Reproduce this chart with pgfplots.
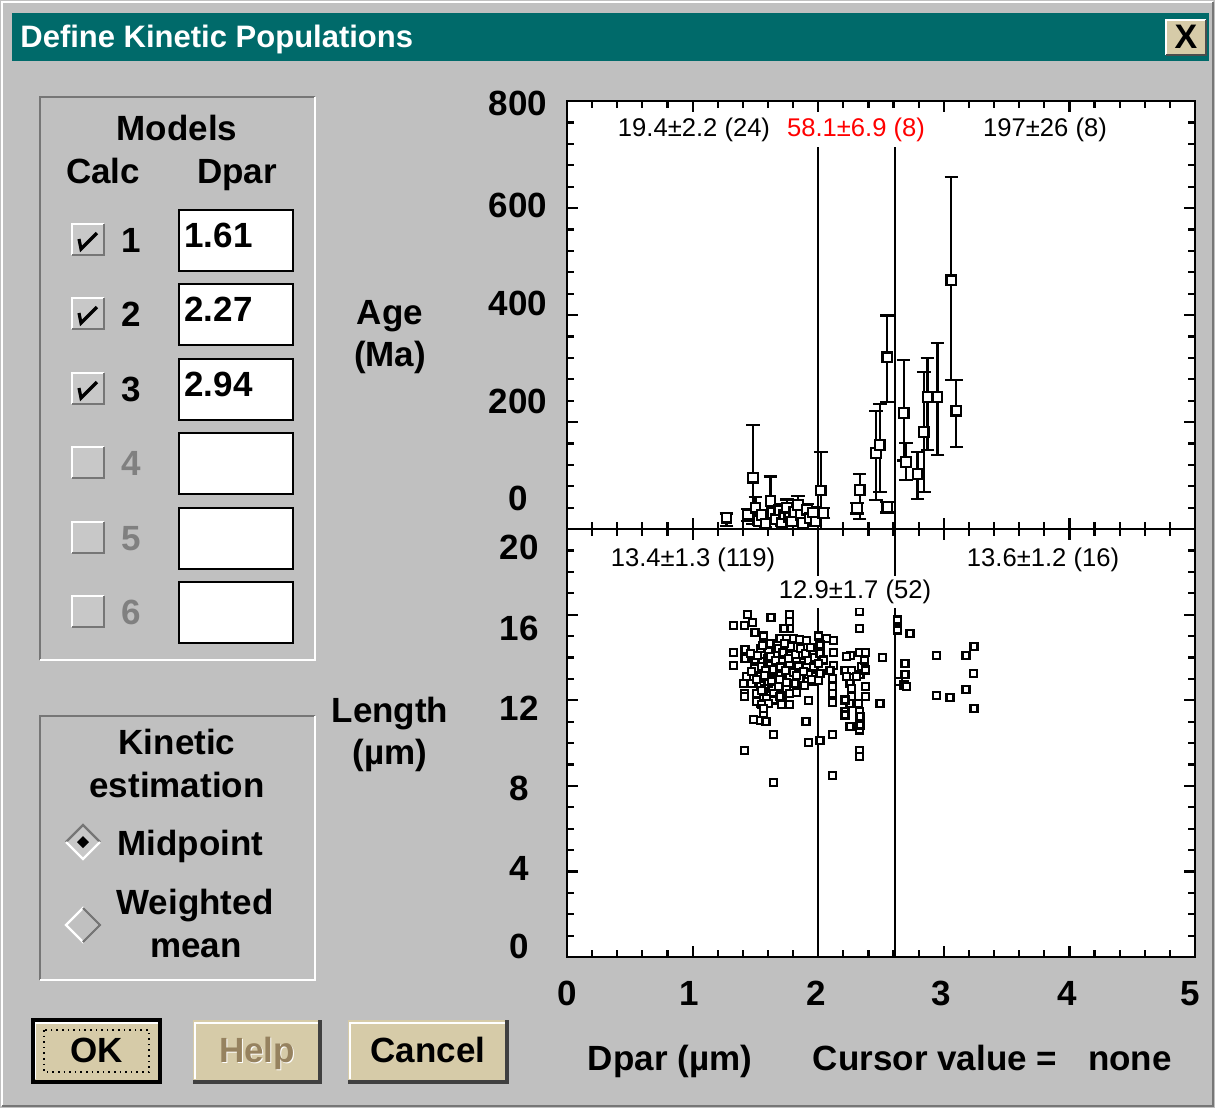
\documentclass[border=0pt]{standalone}
\usepackage{pgfplots}
\pgfplotsset{compat=1.18}
\usepackage{pgfplotstable}
\usepackage{fontspec}
\setmainfont{Liberation Sans}
\definecolor{bg}{RGB}{192,192,192}
\definecolor{tealbar}{RGB}{0,106,106}
\definecolor{btn}{RGB}{214,203,168}
\definecolor{dk}{RGB}{118,118,118}
\definecolor{helpc}{RGB}{150,130,95}
\definecolor{boxfill}{RGB}{200,200,200}
\newcommand\GUI{\fontsize{17.5}{20}\selectfont\bfseries}
\newcommand\ANN{\fontsize{12.8}{14}\selectfont}

% Age vs Dpar: x, age, error plus, error minus
\pgfplotstableread{
x y ep em
1.27 21 8 15
1.44 27 10 12
1.48 96 98 86
1.50 40 20 20
1.53 15 8 8
1.55 26 10 10
1.58 10 6 6
1.62 52 46 30
1.64 30 10 10
1.66 18 8 8
1.69 35 12 12
1.71 12 6 6
1.73 27 10 10
1.75 40 15 15
1.77 22 8 8
1.79 14 6 6
1.81 32 12 12
1.84 45 17 17
1.86 26 10 10
1.88 11 6 6
1.91 36 10 10
1.93 20 8 8
1.96 31 10 10
1.98 14 6 6
2.02 72 72 72
2.04 30 10 10
2.31 39 10 10
2.33 73 30 54
2.46 142 79 88
2.49 157 77 88
2.55 41 10 10
2.55 321 78 84
2.68 217 99 89
2.70 125 36 33
2.79 103 41 47
2.84 181 113 112
2.87 247 72 100
2.95 247 101 109
3.06 465 193 187
3.10 221 57 68
}\agetable

% Track length vs Dpar
\pgfplotstableread{
x y
1.324 15.48
1.412 15.48
1.436 16.01
1.478 15.62
1.497 15.16
1.624 15.87
1.770 16.01
1.770 15.67
1.775 15.36
1.728 15.36
1.563 15.00
1.616 14.66
1.696 14.89
1.749 14.89
1.802 14.89
1.850 14.84
1.908 14.81
1.324 14.24
1.417 14.35
1.537 14.42
1.603 14.27
1.669 14.11
1.775 14.11
1.855 14.07
1.921 14.03
1.961 14.27
1.550 13.80
1.616 13.64
1.775 13.72
1.908 13.64
1.324 13.64
1.497 13.88
1.417 13.96
1.709 13.80
1.829 13.80
1.537 13.57
1.430 13.10
1.484 13.02
1.537 13.13
1.590 13.26
1.656 13.33
1.696 13.18
1.775 13.10
1.855 13.02
1.921 13.22
1.975 13.10
1.404 12.79
1.470 12.79
1.537 12.71
1.603 12.79
1.656 12.87
1.749 12.82
1.815 12.76
1.961 12.87
1.576 12.55
1.683 12.63
1.749 12.48
1.412 12.32
1.412 12.17
1.510 12.32
1.568 12.40
1.643 12.32
1.717 12.24
1.775 12.32
1.829 12.35
1.921 11.98
1.643 12.01
1.696 12.17
1.590 12.09
1.537 11.85
1.510 11.93
1.550 11.78
1.603 11.85
1.709 11.78
1.775 11.78
1.568 11.39
1.563 11.62
1.484 11.11
1.537 11.07
1.584 11.00
1.903 11.00
1.643 10.41
1.921 10.02
1.412 9.64
1.643 8.15
1.46 14.20
1.49 13.50
1.52 14.10
1.56 14.55
1.58 13.40
1.60 13.95
1.62 14.05
1.64 13.45
1.66 13.85
1.68 14.40
1.70 13.55
1.72 14.25
1.74 13.40
1.76 13.95
1.78 14.50
1.80 13.30
1.82 14.15
1.84 13.60
1.86 14.40
1.88 13.35
1.90 14.20
1.92 13.85
1.94 14.45
1.96 13.55
1.97 14.00
1.95 12.95
1.89 12.70
1.83 13.15
1.69 12.95
1.63 12.90
1.57 13.15
1.51 12.95
1.47 13.35
1.55 12.45
1.73 14.65
2.327 16.14
2.327 15.36
2.001 15.00
2.067 14.89
2.120 14.78
2.014 14.58
2.014 14.19
2.120 14.24
2.258 14.11
2.327 14.22
2.373 14.22
2.513 13.99
2.041 13.88
2.005 13.72
2.120 13.64
2.346 13.57
2.227 14.03
2.365 13.88
2.094 13.38
2.213 13.38
2.266 13.38
2.333 13.22
2.373 13.41
2.014 13.26
2.001 12.94
2.115 13.02
2.227 13.10
2.306 13.10
2.253 12.79
2.115 12.66
2.115 12.32
2.266 12.55
2.266 12.17
2.373 12.63
2.373 12.17
2.115 11.88
2.492 11.85
2.253 11.85
2.213 12.01
2.213 11.46
2.327 11.46
2.213 11.31
2.333 11.23
2.253 10.76
2.327 10.61
2.333 10.84
2.115 10.41
2.014 10.11
2.327 9.64
2.327 9.36
2.115 8.50
2.320 11.85
2.630 15.75
2.630 15.28
2.731 15.12
3.240 14.50
3.177 14.11
2.943 14.11
2.691 13.72
2.691 13.22
2.638 12.87
2.683 12.71
2.704 12.66
3.235 13.26
3.177 12.48
2.943 12.24
3.049 12.12
3.240 11.62
}\lentable

\pgfplotsset{
  kin/.style={scale only axis, width=314pt, height=214pt,
    xmin=0, xmax=5, xtick={0,1,...,5}, minor x tick num=4,
    xticklabels={}, yticklabels={},
    tick align=inside, major tick length=5.5pt, minor tick length=3.5pt,
    axis line style={black, line width=1.2pt},
    every tick/.style={black, line width=1.1pt},
    axis background/.style={fill=white}},
}

\begin{document}
\begin{tikzpicture}
\begin{scope}[x=0.5pt,y=-0.5pt]
  % window background
  \fill[bg] (0,0) rectangle (1215,1108);
  \draw[white, line width=1pt] (2,1106) -- (2,2) -- (1213,2);
  \draw[dk, line width=1pt] (2,1106) -- (1213,1106) -- (1213,2);
  % title bar
  \fill[tealbar] (12,13) rectangle (1209,61);
  \node[anchor=base west, inner sep=0, text=white, font=\fontsize{15.5}{17}\selectfont\bfseries] at (20,47) {Define Kinetic Populations};
  % close button
  \fill[btn] (1166,20) rectangle (1206,55);
  \draw[white, line width=1pt] (1166,55) -- (1166,20) -- (1206,20);
  \draw[black!70, line width=1.2pt] (1166,55) -- (1206,55) -- (1206,20);
  \node[inner sep=0, font=\fontsize{17}{18}\selectfont\bfseries] at (1186,37) {X};

  % Models group box
  \draw[dk, line width=1.2pt] (315,97) -- (40,97) -- (40,660);
  \draw[white, line width=1.2pt] (40,660) -- (315,660) -- (315,97);
  \node[anchor=base, inner sep=0, font=\GUI] at (177,140) {Models};
  \node[anchor=base, inner sep=0, font=\GUI] at (103,183) {Calc};
  \node[anchor=base, inner sep=0, font=\GUI] at (237,183) {Dpar};
  \foreach \yc/\lab/\col/\chk/\val in {240/1/black/1/1.61, 314/2/black/1/2.27, 389/3/black/1/2.94, 463/4/black!50/0/, 538/5/black!50/0/, 612/6/black!50/0/} {
    \fill[boxfill] (72,\yc-16) rectangle (104,\yc+15);
    \draw[white, line width=1.2pt] (72,\yc+15) -- (72,\yc-16) -- (104,\yc-16);
    \draw[dk, line width=1.2pt] (72,\yc+15) -- (104,\yc+15) -- (104,\yc-16);
    \ifnum\chk=1
      \draw[black, line width=1.6pt] (79,\yc-1) -- (81,\yc+9) -- (97,\yc-7);
    \fi
    \node[anchor=base, inner sep=0, font=\GUI, text=\col] at (131,\yc+12) {\lab};
    \draw[black, fill=white, line width=1.2pt] (179,\yc-30) rectangle (293,\yc+31);
    \node[anchor=base west, inner sep=0, font=\GUI] at (184,\yc+7) {\val};
  }

  % Kinetic estimation group box
  \draw[dk, line width=1.2pt] (315,716) -- (40,716) -- (40,980);
  \draw[white, line width=1.2pt] (40,980) -- (315,980) -- (315,716);
  \node[anchor=base, inner sep=0, font=\GUI] at (177,754) {Kinetic};
  \node[anchor=base, inner sep=0, font=\GUI] at (177,797) {estimation};
  \node[anchor=base west, inner sep=0, font=\GUI] at (117,855) {Midpoint};
  \node[anchor=base, inner sep=0, font=\GUI] at (195,914) {Weighted};
  \node[anchor=base, inner sep=0, font=\GUI] at (196,957) {mean};
  % radio diamonds
  \fill[boxfill] (83,825) -- (100,842) -- (83,859) -- (66,842) -- cycle;
  \draw[dk, line width=1.1pt] (66,842) -- (83,825) -- (100,842);
  \draw[white, line width=1.1pt] (66,842) -- (83,859) -- (100,842);
  \fill[black] (83,836) -- (89,842) -- (83,848) -- (77,842) -- cycle;
  \draw[white, line width=1.1pt] (66,925) -- (83,908) -- (100,925) -- (83,942) -- cycle;
  \draw[dk, line width=1.1pt] (83,908) -- (100,925) -- (83,942);

  % buttons
  \foreach \xa/\xb in {33/160, 193/320, 348/507} {
    \fill[btn] (\xa,1020) rectangle (\xb,1082);
    \draw[white, line width=1.2pt] (\xa+2,1079) -- (\xa+2,1023) -- (\xb-2,1023);
    \draw[black!75, line width=1.6pt] (\xa,1082) -- (\xb,1082) -- (\xb,1020);
  }
  \draw[black, line width=1.6pt] (33,1020) rectangle (160,1082);
  \draw[black, line width=0.8pt, dotted] (44,1030) rectangle (149,1072);
  \node[anchor=base, inner sep=0, font=\GUI] at (97,1062) {OK};
  \node[anchor=base, inner sep=0, font=\GUI, text=white] at (258,1063) {Help};
  \node[anchor=base, inner sep=0, font=\GUI, text=helpc] at (257,1062) {Help};
  \node[anchor=base, inner sep=0, font=\GUI] at (428,1062) {Cancel};

  % axis titles
  \node[anchor=base, inner sep=0, font=\GUI] at (390,324) {Age};
  \node[anchor=base, inner sep=0, font=\GUI] at (390,366) {(Ma)};
  \node[anchor=base, inner sep=0, font=\GUI] at (390,722) {Length};
  \node[anchor=base, inner sep=0, font=\GUI] at (390,764) {(µm)};
  % y tick labels
  \foreach \yy/\lab in {115/800, 217/600, 315/400, 413/200, 510/0}
    \node[anchor=base, inner sep=0, font=\GUI] at (518,\yy) {\lab};
  \foreach \yy/\lab in {559/20, 640/16, 720/12, 800/8, 880/4, 958/0}
    \node[anchor=base, inner sep=0, font=\GUI] at (519,\yy) {\lab};
  % x tick labels
  \foreach \xx/\lab in {567/0, 689/1, 816/2, 941/3, 1067/4, 1190/5}
    \node[anchor=base, inner sep=0, font=\GUI] at (\xx,1005) {\lab};
  \node[anchor=base, inner sep=0, font=\GUI] at (670,1070) {Dpar (µm)};
  \node[anchor=base, inner sep=0, font=\GUI] at (935,1070) {Cursor value =};
  \node[anchor=base, inner sep=0, font=\GUI] at (1130,1070) {none};
\end{scope}

% Age panel
\begin{axis}[kin, at={(283.5pt,-264.5pt)}, anchor=south west,
  ymin=0, ymax=800, ytick={0,200,...,800}, minor y tick num=4]
  \addplot[black, line width=1.1pt] coordinates {(2.0,0) (2.0,714)};
  \addplot[black, line width=1.1pt] coordinates {(2.61,0) (2.61,714)};
  \addplot[black, line width=1.1pt, only marks, mark=square*, mark size=2.4pt,
    mark options={fill=white, draw=black, line width=1.1pt},
    error bars/.cd, y dir=both, y explicit, error mark=|,
    error bar style={black, line width=1.1pt},
    error mark options={black, mark size=3.4pt, line width=1.1pt}]
    table[x=x, y=y, y error plus=ep, y error minus=em] {\agetable};
\end{axis}

% Length panel
\begin{axis}[kin, at={(283.5pt,-478.5pt)}, anchor=south west,
  ymin=0, ymax=20, ytick={0,4,...,20}, minor y tick num=3]
  \addplot[black, line width=1.1pt] coordinates {(2.0,0) (2.0,20)};
  \addplot[black, line width=1.1pt] coordinates {(2.61,0) (2.61,20)};
  \addplot[only marks, mark=square*, mark size=1.75pt,
    mark options={fill=white, draw=black, line width=1.05pt}]
    table[x=x, y=y] {\lentable};
\end{axis}

% statistics labels
\begin{scope}[x=0.5pt,y=-0.5pt]
  \node[font=\ANN, fill=white, inner sep=1.5pt] at (694,130) {19.4±2.2 (24)};
  \node[font=\ANN, fill=white, inner sep=1.5pt, text=red] at (856,130) {58.1±6.9 (8)};
  \node[font=\ANN, fill=white, inner sep=1.5pt] at (1045,130) {197±26 (8)};
  \node[font=\ANN, fill=white, inner sep=1.5pt] at (693,560) {13.4±1.3 (119)};
  \node[font=\ANN, fill=white, inner sep=1.5pt] at (1043,560) {13.6±1.2 (16)};
  \node[font=\ANN, fill=white, inner sep=2pt] at (855,592) {12.9±1.7 (52)};
\end{scope}
\end{tikzpicture}
\end{document}
